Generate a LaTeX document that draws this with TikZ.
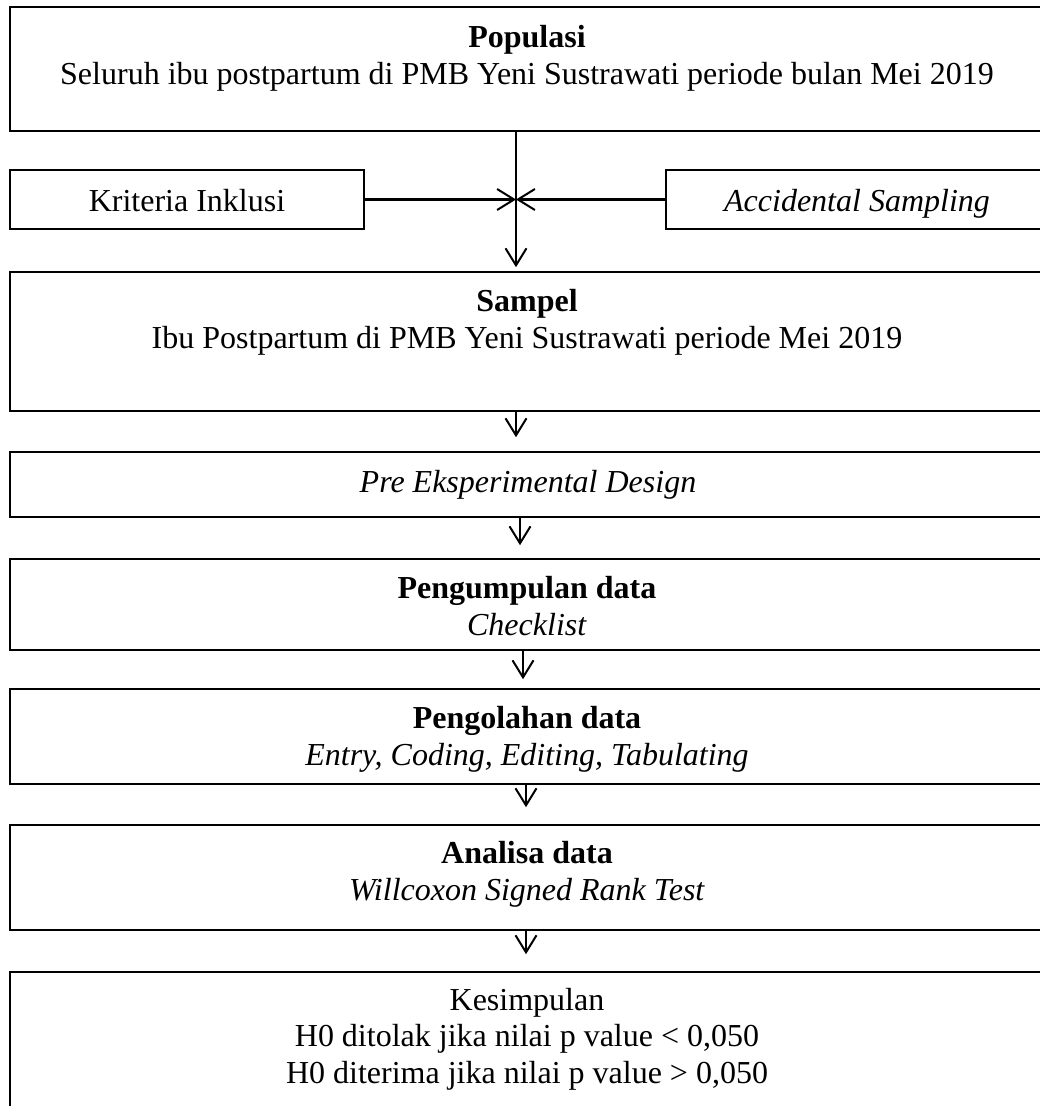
\documentclass[tikz,border=0pt]{standalone}
\usepackage{fontspec}
\setmainfont{Liberation Serif}
\usetikzlibrary{arrows.meta,positioning,calc}

\tikzset{
    box/.style={draw, line width=1.6pt, rectangle, inner sep=0pt, minimum width=1034pt},
    txt/.style={align=center, anchor=base, inner sep=0pt},
    arr/.style={line width=2.2pt, -{Straight Barb[length=17pt,width=21pt,line width=2pt]}}
}

\begin{document}
\begin{tikzpicture}[x=1pt, y=-1pt, font=\fontsize{32}{36.5}\selectfont]
        \clip (0,0) rectangle (1040,1106);
        % kotak alur
        \node[box, minimum height=124pt] (pop) at (527,69) {};
        \node[box, minimum width=354pt, minimum height=59pt] (kri) at (187,199.5) {};
        \node[box, minimum width=382pt, minimum height=59pt] (acc) at (857,199.5) {};
        \node[box, minimum height=139pt] (samp) at (527,341.5) {};
        \node[box, minimum height=65pt] (pre) at (527,484.5) {};
        \node[box, minimum height=91pt] (peng) at (527,604.5) {};
        \node[box, minimum height=95pt] (olah) at (527,736.5) {};
        \node[box, minimum height=105pt] (anl) at (527,877.5) {};
        \node[box, minimum height=143pt] (kes) at (527,1043.5) {};
        % isi kotak (anchor base = baris terakhir)
        \node[txt] (poptxt) at (527,84) {\textbf{Populasi}\\Seluruh ibu postpartum di PMB Yeni Sustrawati periode bulan Mei 2019};
        \node[txt] (kritxt) at (187,211) {Kriteria Inklusi};
        \node[txt] (acctxt) at (857,211) {\textit{Accidental Sampling}};
        \node[txt] (samptxt) at (527,348) {\textbf{Sampel}\\Ibu Postpartum di PMB Yeni Sustrawati periode Mei 2019};
        \node[txt] (pretxt) at (528,492) {\textit{Pre Eksperimental Design}};
        \node[txt] (pengtxt) at (527,635) {\textbf{Pengumpulan data}\\\textit{Checklist}};
        \node[txt] (olahtxt) at (527,765) {\textbf{Pengolahan data}\\\textit{Entry, Coding, Editing, Tabulating}};
        \node[txt] (anltxt) at (527,900) {\textbf{Analisa data}\\\textit{Willcoxon Signed Rank Test}};
        \node[txt] (kestxt) at (527,1083) {Kesimpulan\\H0 ditolak jika nilai p value < 0,050\\H0 diterima jika nilai p value > 0,050};
        % panah
        \coordinate (join) at (kri.east -| 516,0);
        \draw[arr, shorten >=4pt] (pop.south -| join) -- (join |- samp.north);
        \draw[arr] (kri.east) -- (join);
        \draw[arr] (acc.west) -- (join);
        \foreach \a/\b/\x/\g in {samp/pre/516/14, pre/peng/520/13, peng/olah/523/9, olah/anl/526/17, anl/kes/526/17}
            \draw[arr, shorten >=\g pt] (\a.south -| \x,0) -- (\b.north -| \x,0);
    \end{tikzpicture}
\end{document}
